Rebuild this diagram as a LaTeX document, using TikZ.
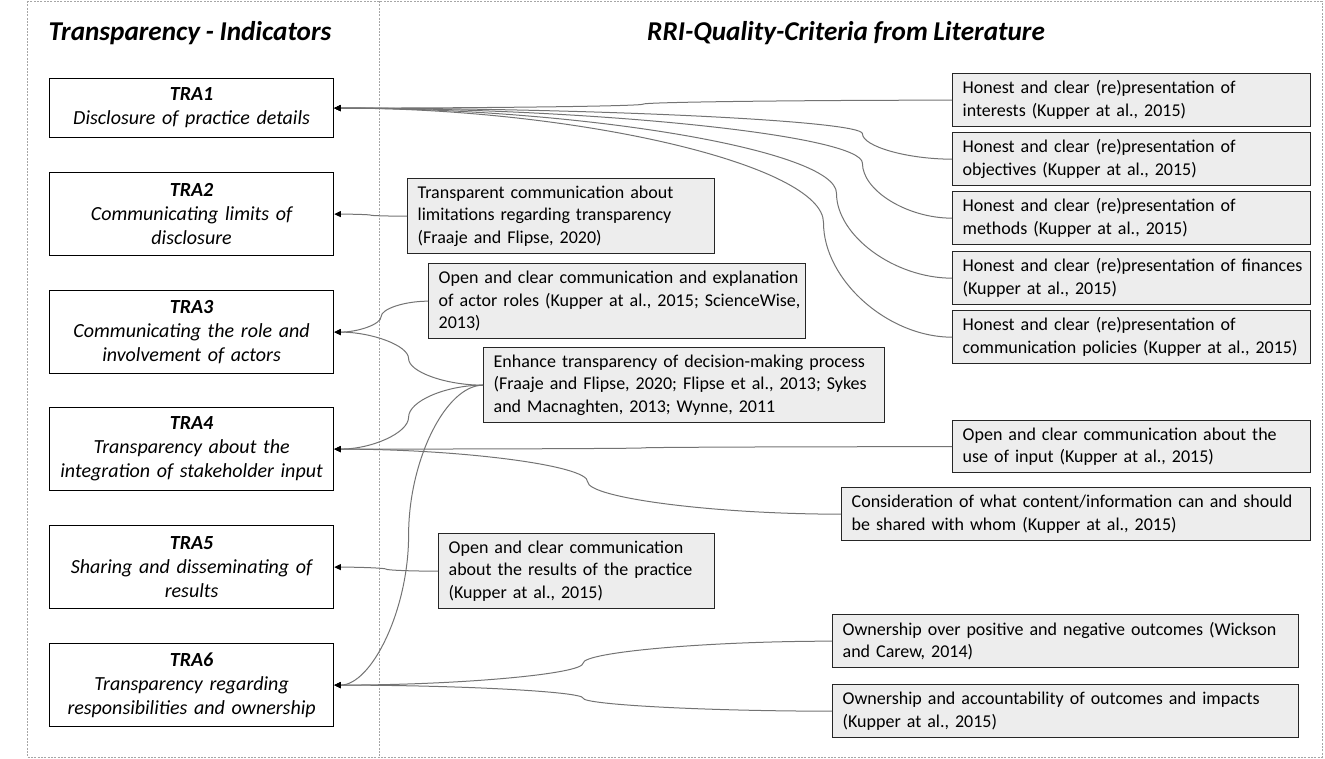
\documentclass[tikz,border=0pt]{standalone}
\usepackage{fontspec}
\setmainfont{Carlito}[WordSpace=0.9]
\usetikzlibrary{arrows.meta,calc}
\newcommand\lin[1]{\mbox{#1}}
\newcommand\cc[3][0.5]{\draw[conn] let \p1=(#2.west), \p2=(#3.east), \p3=({\x1+#1*(\x2-\x1)},{(\y1+\y2)/2}) in (\p1) .. controls ({(\x1+\x3)/2},\y1) and (\x3,{(3*\y1+\y2)/4}) .. (\p3) .. controls (\x3,{(\y1+3*\y2)/4}) and ({(\x3+\x2)/2},\y2) .. (\p2);}
\begin{document}
\begin{tikzpicture}[x=0.75pt,y=-0.75pt,
 lbox/.style={draw=black, line width=0.9pt, align=center, anchor=north west, minimum width=213pt, text width=205pt, inner xsep=4pt, inner ysep=0pt, font=\itshape\fontsize{15}{18}\selectfont},
 gbox/.style={draw=black!85, line width=1pt, fill=black!7, align=left, anchor=north west, inner xsep=7.5pt, inner ysep=0pt, font=\fontsize{13.5}{17}\selectfont},
 conn/.style={draw=black!55, line width=0.75pt, -{Triangle[length=5pt,width=4.5pt,color=black]}},
 border/.style={draw=black!35, line width=0.6pt, dash pattern=on 1.5pt off 1pt},
 title/.style={font=\bfseries\itshape\fontsize{20.4}{24}\selectfont}]
\useasboundingbox (0,0) rectangle (1325,758);
\draw[border] (27,1) rectangle (1322,757);
\draw[border] (379,1) -- (379,757);

\node[title] (h1) at (190,33) {Transparency - Indicators};
\node[title] (h2) at (846,33) {RRI-Quality-Criteria from Literature};

\node[lbox, minimum height=44.25pt] (t1) at (49,78) {\textbf{TRA1}\\\lin{Disclosure of practice details}};
\node[lbox, minimum height=62.25pt] (t2) at (49,172) {\textbf{TRA2}\\\lin{Communicating limits of}\\\lin{disclosure}};
\node[lbox, minimum height=62.25pt] (t3) at (49,290) {\textbf{TRA3}\\\lin{Communicating the role and}\\\lin{involvement of actors}};
\node[lbox, minimum height=62.25pt] (t4) at (49,407) {\textbf{TRA4}\\\lin{Transparency about the}\\\lin{integration of stakeholder input}};
\node[lbox, minimum height=62.25pt] (t5) at (49,525) {\textbf{TRA5}\\\lin{Sharing and disseminating of}\\\lin{results}};
\node[lbox, minimum height=62.25pt] (t6) at (49,643) {\textbf{TRA6}\\\lin{Transparency regarding}\\\lin{responsibilities and ownership}};

\node[gbox, text width=215.25pt, minimum height=56.25pt] (m1) at (407,178) {\lin{Transparent communication about}\\\lin{limitations regarding transparency}\\\lin{(Fraaje and Flipse, 2020)}};
\node[gbox, text width=267.75pt, minimum height=56.25pt] (m2) at (428,263) {\lin{Open and clear communication and explanation}\\\lin{of actor roles (Kupper at al., 2015; ScienceWise,}\\\lin{2013)}};
\node[gbox, text width=285.75pt, minimum height=56.25pt] (m3) at (483,347) {\lin{Enhance transparency of decision-making process}\\\lin{(Fraaje and Flipse, 2020; Flipse et al., 2013; Sykes}\\\lin{and Macnaghten, 2013; Wynne, 2011}};
\node[gbox, text width=192pt, minimum height=56.25pt] (m4) at (438,533) {\lin{Open and clear communication}\\\lin{about the results of the practice}\\\lin{(Kupper at al., 2015)}};

\node[gbox, text width=253.5pt, minimum height=39.75pt] (r1) at (952,73) {\lin{Honest and clear (re)presentation of}\\\lin{interests (Kupper at al., 2015)}};
\node[gbox, text width=253.5pt, minimum height=39.75pt] (r2) at (952,132) {\lin{Honest and clear (re)presentation of}\\\lin{objectives (Kupper at al., 2015)}};
\node[gbox, text width=253.5pt, minimum height=39.75pt] (r3) at (952,191) {\lin{Honest and clear (re)presentation of}\\\lin{methods (Kupper at al., 2015)}};
\node[gbox, text width=253.5pt, minimum height=39.75pt] (r4) at (952,251) {\lin{Honest and clear (re)presentation of finances}\\\lin{(Kupper at al., 2015)}};
\node[gbox, text width=253.5pt, minimum height=39.75pt] (r5) at (952,310) {\lin{Honest and clear (re)presentation of}\\\lin{communication policies (Kupper at al., 2015)}};
\node[gbox, text width=253.5pt, minimum height=39pt] (r6) at (952,420) {\lin{Open and clear communication about the}\\\lin{use of input (Kupper at al., 2015)}};
\node[gbox, text width=336.75pt, minimum height=39.75pt] (r7) at (841,487) {\lin{Consideration of what content/information can and should}\\\lin{be shared with whom (Kupper at al., 2015)}};
\node[gbox, text width=334.5pt, minimum height=39.75pt] (r8) at (832,614) {\lin{Ownership over positive and negative outcomes (Wickson}\\\lin{and Carew, 2014)}};
\node[gbox, text width=334.5pt, minimum height=39.75pt] (r9) at (832,684) {\lin{Ownership and accountability of outcomes and impacts}\\\lin{(Kupper at al., 2015)}};

\cc{r1}{t1}
\cc[0.145]{r2}{t1}
\cc[0.145]{r3}{t1}
\cc[0.187]{r4}{t1}
\cc[0.208]{r5}{t1}
\cc{m1}{t2}
\cc{m2}{t3}
\cc{m3}{t3}
\cc{m3}{t4}
\cc{r6}{t4}
\cc{r7}{t4}
\cc{m4}{t5}
\cc{m3}{t6}
\cc{r8}{t6}
\cc{r9}{t6}
\end{tikzpicture}
\end{document}
